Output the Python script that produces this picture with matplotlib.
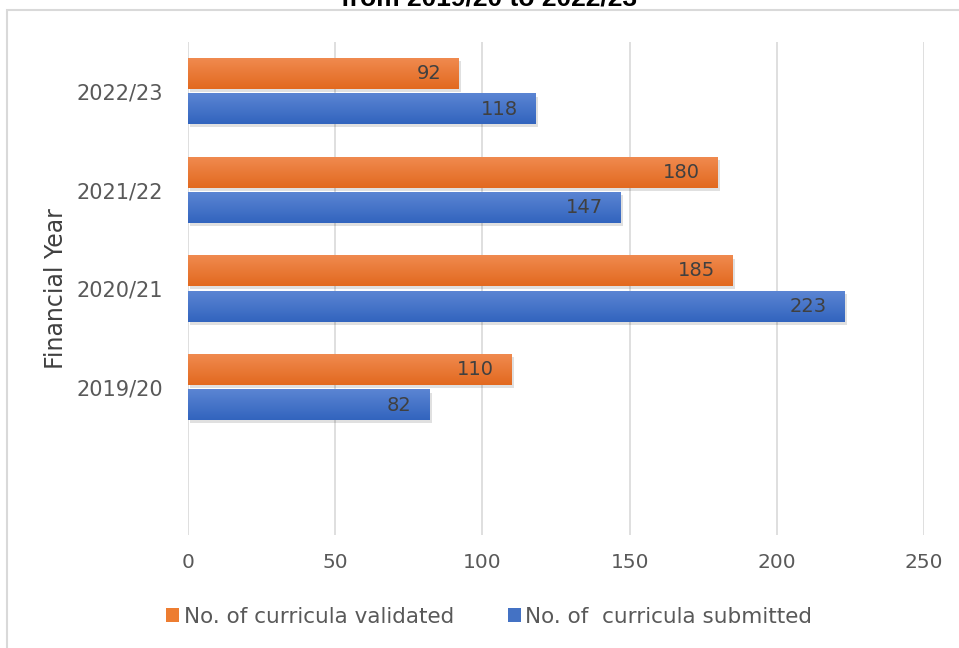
"""Curricula validated vs submitted per financial year."""

import matplotlib
matplotlib.use('Agg')
import matplotlib.pyplot as plt
from matplotlib.patches import Rectangle, Patch
import numpy as np

years = ['', '2019/20', '2020/21', '2021/22', '2022/23']
validated = [np.nan, 110, 185, 180, 92]
submitted = [np.nan, 82, 223, 147, 118]
labels = ['No. of curricula validated', 'No. of  curricula submitted']
x_ticks = [0, 50, 100, 150, 200, 250]

plt.rcParams['font.family'] = ['DejaVu Sans']

fig = plt.figure(figsize=(9.59, 6.48), dpi=100)
ax = fig.add_axes([0.196, 0.174, 0.7675, 0.761])

y = np.arange(len(years))
h = 0.31
off = 0.18


def gradient_bars(bars, top, bottom):
    # vertical gradient inside each bar, light on top
    grad = np.linspace(0, 1, 64).reshape(-1, 1)
    cmap = matplotlib.colors.LinearSegmentedColormap.from_list('g', [top, bottom])
    for b in bars:
        if np.isnan(b.get_width()):
            continue
        x0, y0 = b.get_x(), b.get_y()
        w, hh = b.get_width(), b.get_height()
        # soft shadow
        ax.add_patch(Rectangle((x0 + 0.8, y0 - 0.03), w, hh, color='#000000',
                               alpha=0.12, lw=0, zorder=1.5))
        ax.imshow(grad, extent=(x0, x0 + w, y0, y0 + hh), aspect='auto',
                  cmap=cmap, origin='upper', zorder=2.5)
        b.set_alpha(0)


b1 = ax.barh(y + off, validated, h, color='#ED7D31', label=labels[0], zorder=2)
b2 = ax.barh(y - off, submitted, h, color='#4472C4', label=labels[1], zorder=2)
gradient_bars(b1, '#F08A4F', '#E2691F')
gradient_bars(b2, '#5B85D3', '#3264BE')

for bars, vals in [(b1, validated), (b2, submitted)]:
    for b, v in zip(bars, vals):
        if np.isnan(v):
            continue
        ax.text(v - 6, b.get_y() + b.get_height() / 2, f'{v:.0f}',
                ha='right', va='center', fontsize=14, color='#404040', zorder=4)

ax.set_xlim(0, 250)
ax.set_ylim(-0.5, len(years) - 0.5)
ax.set_xticks(x_ticks)
ax.set_yticks(y)
ax.set_yticklabels(years)
ax.tick_params(axis='x', length=0, pad=13, labelsize=14.5, labelcolor='#595959')
ax.tick_params(axis='y', length=0, pad=18, labelsize=15, labelcolor='#595959')
ax.set_ylabel('Financial Year', fontsize=17, color='#404040', labelpad=6)
ax.grid(axis='x', color='#D9D9D9', lw=1.2, zorder=0)
ax.set_axisbelow(True)
for s in ax.spines.values():
    s.set_visible(False)

handles = [Patch(facecolor='#ED7D31'), Patch(facecolor='#4472C4')]
fig.legend(handles, labels, loc='center', bbox_to_anchor=(0.51, 0.048), ncol=2,
           frameon=False, fontsize=15.5, labelcolor='#595959', handlelength=0.6,
           handleheight=0.6, handletextpad=0.2, columnspacing=2.5)

# title line is partly cut off at the top edge, as in the source image
fig.text(0.51, 1 - 6 / 648, 'from 2019/20 to 2022/23', ha='center', va='baseline',
         fontsize=19, fontweight='bold', color='#000000',
         family=['Liberation Sans', 'DejaVu Sans'])

fig.patches.append(Rectangle((7 / 959, -0.01), 1.0, 1 - 10 / 648 + 0.01,
                             transform=fig.transFigure, fill=False,
                             edgecolor='#D9D9D9', lw=1.5))

plt.savefig('out.png', dpi=100)
print("Saved: out.png")
